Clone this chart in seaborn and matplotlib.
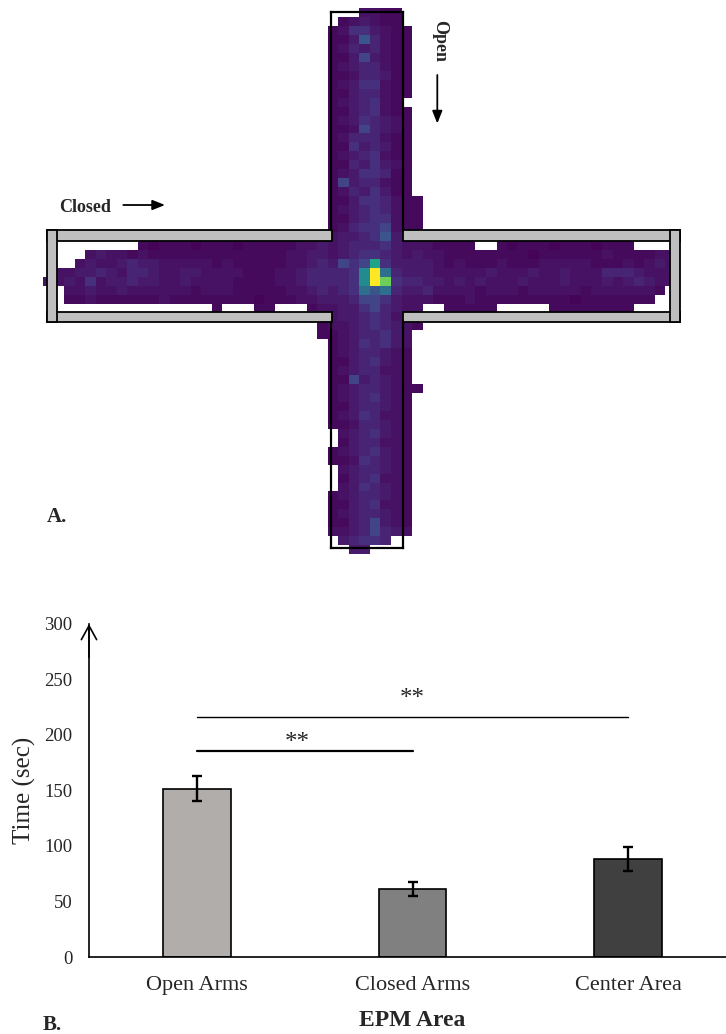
import numpy as np
import pandas as pd
import matplotlib
matplotlib.use("Agg")
import matplotlib.pyplot as plt
from matplotlib.patches import Rectangle, FancyArrowPatch
import seaborn as sns

# ---------------- DATA ----------------
# Panel A: occupancy heat map of the elevated plus maze.
# Each character is one cell level ('.' = no visit); LEVEL_VALUES gives the
# relative occupancy (0..1) of each level.
LEVEL_VALUES = {'0': 0.00, '1': 0.01, '2': 0.025, '3': 0.045, '4': 0.07,
                '5': 0.10, '6': 0.14, '7': 0.20, '8': 0.26, '9': 0.36,
                'a': 0.48, 'b': 0.58, 'c': 0.78, 'd': 1.00}
N_ROWS, N_COLS = 61, 60

# open arm (top), rows 0-25, columns 27-35
top_arm_first_col = 27
top_arm_rows = [
    "...3322..", ".234322..", "23664322.", "22485322.", "23545322.",
    "22474322.", "23455322.", "22355422.", "23466322.", "22455322.",
    "2345632..", "22456322.", "23465432.", "22375432.", "23555322.",
    "22645422.", "23456322.", "22546432.", "23466522.", "27455322.",
    "23546422.", "224665322", "234565322", "224566322", "235667322",
    "34456843.",
]
# closed arms + centre, rows 26-33, all 60 columns
center_rows = [
    "........." "212221222122222334" "34555643" "332222" ".." "2122212221222" "....",
    "...." "34332322222222222223344" "34566543" "4332222222212222223222233",
    "..." "343345443333323222223345" "4767b644" "4432322232223333322232343",
    "." "33445435543344333322233455" "556ad954" "4433333433343343335554333",
    "334363445443343333222233455" "556adc65" "5443434333433343334345433",
    ".." "3343343333332333222223345" "45698954" "453333233323333323333332" ".",
    ".." "2232222223222222221222334" "44577643" "33222322222222212222222" "..",
    "................" "2" "..." "22" "..." "23" "34467543" "3" ".." "22222"
    "....." "22222222" "....",
]
# open arm (bottom), rows 34-60, columns 26-35
bottom_arm_first_col = 26
bottom_arm_rows = [
    ".34456533.", "2334565432", "223455643.", ".23465643.", ".23455432.",
    ".22456432.", ".23455332.", ".22745432.", ".234554322", ".23456432.",
    ".22455432.", ".23465332.", ".22355432.", "..3456432.", "..2455332.",
    ".23456432.", ".22365432.", "..3455432.", "..2456332.", "..3465432.",
    ".23455432.", ".22456332.", ".23455432.", ".22457432.", ".33457543.",
    "..45665...", "...44.....",
]

# Panel B: time spent per EPM area
areas = ["Open Arms", "Closed Arms", "Center Area"]
mean_time = [151.5, 61.3, 88.2]
sem_time = [11.2, 6.2, 10.5]
bar_colors = ["#b0adab", "#808080", "#404040"]
sig_pairs = [(0, 1), (0, 2)]
sig_line_y = [185.5, 216.0]
sig_text_y = [187.5, 227.0]
sig_labels = ["**", "**"]
y_ticks = [0, 50, 100, 150, 200, 250, 300]

# ---------------- BUILD GRID ----------------
grid = np.full((N_ROWS, N_COLS), np.nan)


def put(row, first_col, s):
    for j, ch in enumerate(s):
        if ch != '.':
            grid[row, first_col + j] = LEVEL_VALUES[ch]


for i, s in enumerate(top_arm_rows):
    put(i, top_arm_first_col, s)
for i, s in enumerate(center_rows):
    assert len(s) == N_COLS, (i, len(s))
    put(26 + i, 0, s)
for i, s in enumerate(bottom_arm_rows):
    put(34 + i, bottom_arm_first_col, s)

# ---------------- STYLE ----------------
sns.set_style("white")
plt.rcParams["font.family"] = ["Liberation Serif", "DejaVu Serif"]
plt.rcParams["axes.unicode_minus"] = False

W, H = 726, 1034
fig = plt.figure(figsize=(W / 100, H / 100), dpi=100)

# ---------------- PANEL A ----------------
MAP_BOTTOM_PX = 570
ax_map = fig.add_axes([0, 1 - MAP_BOTTOM_PX / H, 1, MAP_BOTTOM_PX / H])
sns.heatmap(grid, cmap="viridis", vmin=0, vmax=1, cbar=False,
            xticklabels=False, yticklabels=False, ax=ax_map)

CELL_W, CELL_H, X0, Y0 = 10.55, 8.95, 42.9, 8.15


def cx(px):
    return (px - X0) / CELL_W


def cy(py):
    return (py - Y0) / CELL_H


ax_map.set_xlim(cx(0), cx(W))
ax_map.set_ylim(cy(MAP_BOTTOM_PX), cy(0))
ax_map.axis("off")

wall_kw = dict(facecolor="#bfbfbf", edgecolor="black", linewidth=1.3, zorder=5)
for (x0, y0, x1, y1) in [(47.3, 230, 331.7, 241), (47.3, 312.3, 331.7, 322.3),
                         (47.3, 230, 56.7, 322.3), (403.3, 230, 680, 241),
                         (403.3, 312.3, 680, 322.3), (670, 230, 680, 322.3)]:
    ax_map.add_patch(Rectangle((cx(x0), cy(y0)), cx(x1) - cx(x0), cy(y1) - cy(y0), **wall_kw))

line_kw = dict(color="black", linewidth=1.6, zorder=6, solid_capstyle="projecting")
ax_map.plot([cx(331), cx(331)], [cy(11.7), cy(230)], **line_kw)
ax_map.plot([cx(403.3), cx(403.3)], [cy(11.7), cy(230)], **line_kw)
ax_map.plot([cx(331), cx(403.3)], [cy(11.7), cy(11.7)], **line_kw)
ax_map.plot([cx(331), cx(331)], [cy(322.3), cy(548.3)], **line_kw)
ax_map.plot([cx(403.3), cx(403.3)], [cy(322.3), cy(548.3)], **line_kw)
ax_map.plot([cx(331), cx(403.3)], [cy(548.3), cy(548.3)], **line_kw)

# labels on panel A
fig.text(59.5 / W, 1 - 211.5 / H, "Closed", fontsize=13, fontweight="bold",
         ha="left", va="baseline")
fig.text(440 / W, 1 - 41.5 / H, "Open", fontsize=13, fontweight="bold",
         ha="center", va="center", rotation=-90)
arrow_kw = dict(arrowstyle="-|>,head_length=0.5,head_width=0.2", color="black",
                lw=1.3, mutation_scale=15, shrinkA=0, shrinkB=0)
fig.patches.append(FancyArrowPatch(
    (123.3 / W, 1 - 205 / H), (165 / W, 1 - 205 / H),
    transform=fig.transFigure, **arrow_kw))
fig.patches.append(FancyArrowPatch(
    (437.3 / W, 1 - 75 / H), (437.3 / W, 1 - 123.5 / H),
    transform=fig.transFigure, **arrow_kw))
fig.text(47 / W, 1 - 517 / H, "A.", fontsize=15, fontweight="bold",
         ha="left", va="center")

# ---------------- PANEL B ----------------
AX_L, AX_R, AX_T, AX_B = 89, 726, 624, 957
ax_bar = fig.add_axes([AX_L / W, 1 - AX_B / H, (AX_R - AX_L) / W, (AX_B - AX_T) / H])
df = pd.DataFrame({"area": areas, "time": mean_time})
sns.barplot(data=df, x="area", y="time", hue="area", palette=bar_colors,
            saturation=1, width=0.314, edgecolor="black", linewidth=1.2,
            errorbar=None, legend=False, ax=ax_bar, zorder=2)
ax_bar.errorbar(x=np.arange(len(areas)), y=mean_time, yerr=sem_time, fmt="none",
                ecolor="black", elinewidth=1.7, capsize=3.5, capthick=1.7, zorder=3)

for (a, b), ly, ty, lab, lw in zip(sig_pairs, sig_line_y, sig_text_y, sig_labels, [1.6, 1.0]):
    ax_bar.plot([a, b], [ly, ly], color="black", linewidth=lw, zorder=3)
    ax_bar.text((a + b) / 2 - (0.035 if b - a == 1 else 0), ty, lab, fontsize=18,
                ha="center", va="baseline")

ax_bar.set_xlim(-0.502, 2.455)
ax_bar.set_ylim(0, 300)
ax_bar.set_yticks(y_ticks)
ax_bar.set_yticklabels([str(t) for t in y_ticks], fontsize=13.5)
ax_bar.tick_params(axis="y", length=0, pad=12)
ax_bar.tick_params(axis="x", length=0, pad=14, labelsize=16)
ax_bar.set_xlabel("")
ax_bar.set_ylabel("")
for side in ["top", "right"]:
    ax_bar.spines[side].set_visible(False)
for side in ["left", "bottom"]:
    ax_bar.spines[side].set_color("black")
    ax_bar.spines[side].set_linewidth(1.2)
ax_bar.annotate("", xy=(0, 1.0), xytext=(0, 0.9), xycoords="axes fraction",
                arrowprops=dict(arrowstyle="->,head_length=1.0,head_width=0.55",
                                lw=1.2, color="black", mutation_scale=10,
                                shrinkA=0, shrinkB=0), annotation_clip=False)
ax_bar.text((24 - AX_L) / (AX_R - AX_L), 0.5, "Time (sec)", fontsize=18,
            rotation=90, ha="center", va="center", transform=ax_bar.transAxes)
fig.text(412.5 / W, 1 - 1020 / H, "EPM Area", fontsize=17, fontweight="bold",
         ha="center", va="center")
fig.text(43 / W, 1 - 1025 / H, "B.", fontsize=15, fontweight="bold",
         ha="left", va="center")

fig.savefig("out.png", dpi=100, facecolor="white")
